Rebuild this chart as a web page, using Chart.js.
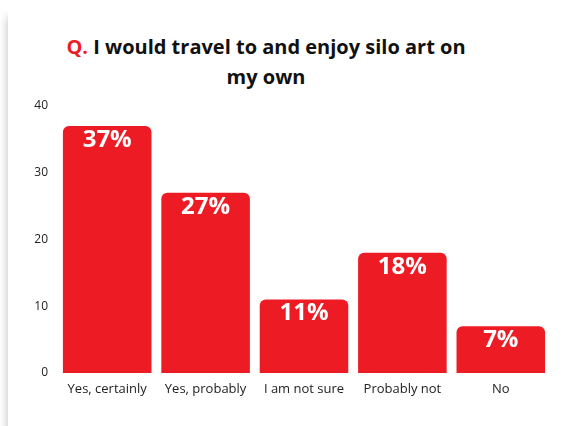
<!DOCTYPE html>
<html>
<head>
<meta charset="utf-8">
<script src="https://cdn.jsdelivr.net/npm/chart.js@4.4.0/dist/chart.umd.min.js"></script>
<style>
  html, body { margin: 0; padding: 0; background: #fff; width: 570px; height: 426px; overflow: hidden; }
  .edge { position: absolute; left: 0; top: 10px; width: 8px; height: 430px; background: linear-gradient(to right, rgba(0,0,0,0) 0%, rgba(0,0,0,0.05) 50%, rgba(0,0,0,0.13) 100%); -webkit-mask-image: linear-gradient(to bottom, transparent 0, #000 14px); }
  .chart-title { position: absolute; left: 56px; top: 32px; width: 420px; text-align: center; font-family: "Open Sans", sans-serif; font-weight: 700; font-size: 20px; line-height: 30px; color: #111; }
  .chart-title .q { color: #ed1c24; }
  .chart-wrap { position: absolute; left: 0; top: 0; width: 570px; height: 426px; }
</style>
</head>
<body>
<div class="edge"></div>
<div class="chart-title"><span class="q">Q.</span> I would travel to and enjoy silo art on my own</div>
<div class="chart-wrap"><canvas id="chart"></canvas></div>
<script>
const categories = ['Yes, certainly', 'Yes, probably', 'I am not sure', 'Probably not', 'No'];
const percentages = [37, 27, 11, 18, 7];
const yTicks = [0, 10, 20, 30, 40];

const barRed = '#ed1c24';

// draws the "37%" style labels inside the top of each bar
const valueLabels = {
    id: 'valueLabels',
    afterDatasetsDraw(chart) {
        const ctx = chart.ctx;
        const meta = chart.getDatasetMeta(0);
        ctx.save();
        ctx.font = 'bold 24px "Open Sans", sans-serif';
        ctx.fillStyle = '#fff';
        ctx.textAlign = 'center';
        ctx.textBaseline = 'middle';
        meta.data.forEach((bar, i) => {
            ctx.fillText(percentages[i] + '%', bar.x, bar.y + 14);
        });
        ctx.restore();
    }
};

new Chart(document.getElementById('chart'), {
    type: 'bar',
    data: {
        labels: categories,
        datasets: [{
            data: percentages,
            backgroundColor: barRed,
            borderRadius: 6,
            borderSkipped: 'bottom',
            categoryPercentage: 1,
            barPercentage: 0.9
        }]
    },
    options: {
        responsive: true,
        maintainAspectRatio: false,
        animation: false,
        layout: { padding: { top: 106, right: 20, left: 0, bottom: 0 } },
        plugins: { legend: { display: false }, tooltip: { enabled: false } },
        scales: {
            x: {
                grid: { display: false, drawTicks: false },
                border: { display: false },
                ticks: { color: '#222', padding: 8, font: { family: 'Open Sans', size: 13 } },
                afterFit: s => { s.height = 53; }
            },
            y: {
                min: 0,
                max: 40,
                afterBuildTicks: s => { s.ticks = yTicks.map(v => ({ value: v })); },
                grid: { display: false, drawTicks: false },
                border: { display: false },
                ticks: { color: '#222', padding: 10, font: { family: 'Open Sans', size: 12 } },
                afterFit: s => { s.width = 58; }
            }
        }
    },
    plugins: [valueLabels]
});
</script>
</body>
</html>
